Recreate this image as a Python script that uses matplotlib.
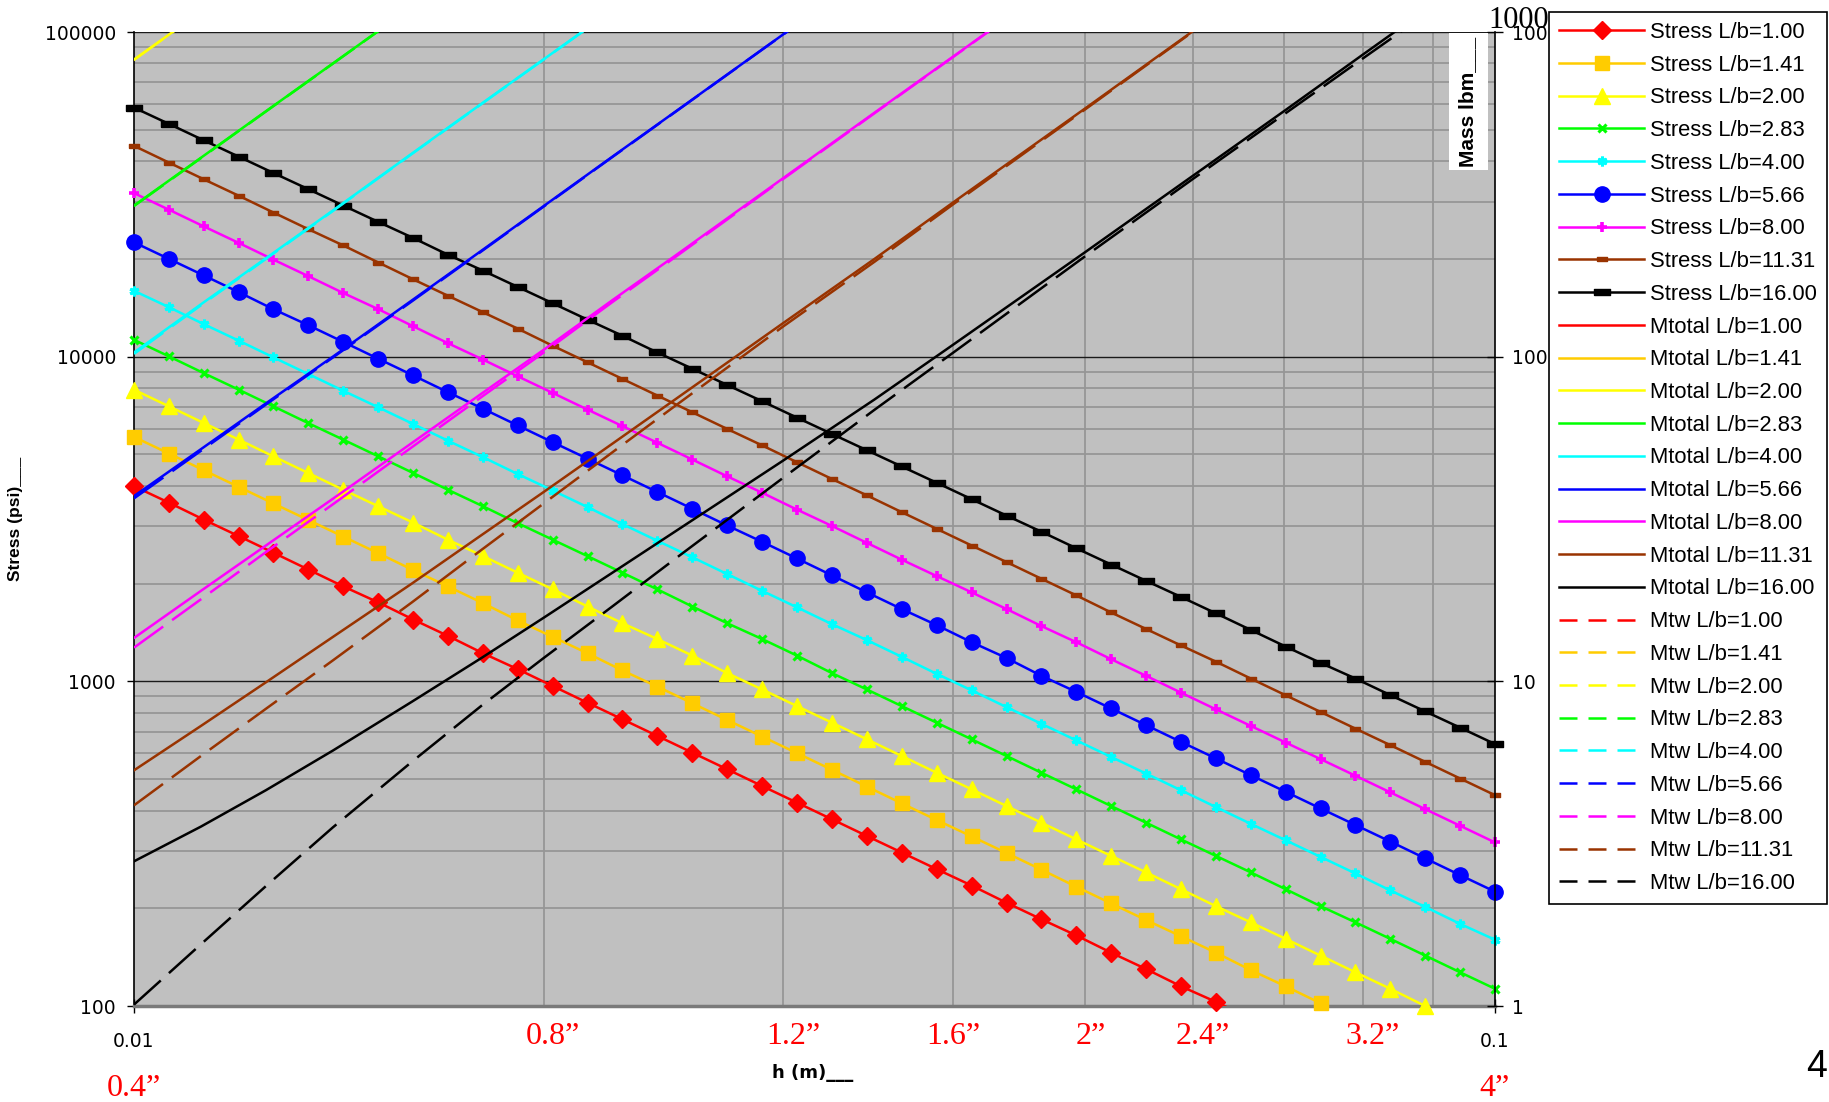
import matplotlib
matplotlib.use("Agg")
import matplotlib.pyplot as plt
import numpy as np
from matplotlib.lines import Line2D
from matplotlib.patches import Rectangle
from matplotlib.ticker import FixedLocator, NullFormatter, LogLocator
from matplotlib.transforms import blended_transform_factory

plt.rcParams['font.family'] = ['Liberation Sans', 'DejaVu Sans']

# h (m) for the stress curves (one point per marker)
h = [0.01000, 0.01061, 0.01125, 0.01194, 0.01266, 0.01343, 0.01425, 0.01512, 0.01604, 0.01701,
     0.01805, 0.01914, 0.02031, 0.02154, 0.02285, 0.02424, 0.02572, 0.02728, 0.02894, 0.03070,
     0.03257, 0.03455, 0.03665, 0.03888, 0.04125, 0.04376, 0.04642, 0.04924, 0.05223, 0.05541,
     0.05878, 0.06236, 0.06615, 0.07017, 0.07444, 0.07897, 0.08377, 0.08886, 0.09427, 0.1000]

stress_100 = [3990, 3550, 3150, 2800, 2490, 2210, 1960, 1750, 1550, 1380, 1220, 1090, 967, 859, 764, 679,
              603, 536, 476, 423, 376, 334, 297, 264, 235, 208, 185, 165, 146, 130, 115, 103, 91.2, 81.0,
              72.0, 64.0, 56.9, 50.5, 44.9, 39.9]
stress_141 = [5660, 5030, 4470, 3970, 3530, 3140, 2790, 2480, 2200, 1960, 1740, 1540, 1370, 1220, 1080, 963,
              856, 760, 676, 601, 534, 474, 421, 374, 333, 296, 263, 233, 207, 184, 164, 146, 129, 115,
              102, 90.8, 80.7, 71.7, 63.7, 56.6]
stress_200 = [7910, 7030, 6250, 5550, 4930, 4380, 3890, 3460, 3080, 2730, 2430, 2160, 1920, 1700, 1510, 1350,
              1200, 1060, 944, 839, 746, 663, 589, 523, 465, 413, 367, 326, 290, 258, 229, 203, 181, 161,
              143, 127, 113, 100, 89.0, 79.1]
stress_283 = [11270, 10020, 8900, 7910, 7030, 6240, 5550, 4930, 4380, 3890, 3460, 3070, 2730, 2430, 2160,
              1920, 1700, 1510, 1350, 1200, 1060, 944, 839, 746, 663, 589, 523, 465, 413, 367, 326, 290,
              258, 229, 203, 181, 161, 143, 127, 113]
stress_400 = [15950, 14200, 12600, 11200, 9950, 8840, 7850, 6980, 6200, 5510, 4900, 4350, 3870, 3440, 3050,
              2710, 2410, 2140, 1900, 1690, 1500, 1340, 1190, 1055, 938, 833, 740, 658, 585, 520, 462, 410,
              364, 324, 288, 256, 227, 202, 179, 160]
stress_566 = [22500, 20000, 17800, 15800, 14000, 12500, 11100, 9850, 8750, 7770, 6910, 6140, 5450, 4850,
              4310, 3830, 3400, 3020, 2690, 2390, 2120, 1880, 1670, 1490, 1320, 1180, 1040, 928, 825, 733,
              651, 579, 514, 457, 406, 361, 321, 285, 253, 225]
stress_800 = [31900, 28350, 25200, 22400, 19900, 17700, 15700, 14000, 12400, 11000, 9790, 8700, 7730, 6870,
              6110, 5430, 4820, 4280, 3810, 3380, 3010, 2670, 2370, 2110, 1880, 1670, 1480, 1320, 1170,
              1040, 923, 820, 729, 648, 576, 512, 455, 404, 359, 319]
stress_1131 = [44600, 39600, 35200, 31300, 27800, 24700, 22000, 19500, 17300, 15400, 13700, 12200, 10800,
               9610, 8540, 7590, 6740, 5990, 5330, 4730, 4200, 3740, 3320, 2950, 2620, 2330, 2070, 1840,
               1630, 1450, 1290, 1150, 1020, 906, 805, 715, 636, 565, 502, 446]
stress_1600 = [58500, 52100, 46400, 41300, 36800, 32800, 29200, 26000, 23200, 20600, 18400, 16400, 14600,
               13000, 11600, 10300, 9180, 8180, 7290, 6490, 5780, 5150, 4590, 4090, 3640, 3240, 2890, 2570,
               2290, 2040, 1820, 1620, 1440, 1280, 1140, 1020, 907, 808, 720, 641]

# h (m) for the mass curves
mass_h = [0.01, 0.0112, 0.0125, 0.014, 0.016, 0.018, 0.02, 0.0225, 0.025, 0.03, 0.035, 0.04,
          0.05, 0.06, 0.07, 0.08, 0.09, 0.1]

mtot_100 = [6540, 9200]
mtot_141 = [2320, 3260]
mtot_200 = [822, 1155]
mtot_283 = [292, 410, 570, 800, 1194]
mtot_400 = [103, 145, 201, 282, 422, 601, 824, 1172]
mtot_566 = [37.2, 51.9, 71.8, 100, 149, 212, 291, 415, 569, 984, 1563]
mtot_800 = [13.6, 19.0, 26.2, 36.5, 54.2, 76.9, 105, 150, 205, 355, 564, 841, 1644]
mtot_1131 = [5.32, 7.29, 9.93, 13.7, 20.0, 28.2, 38.3, 54.2, 74.0, 127, 200, 299, 582, 1007, 1600]
mtot_1600 = [2.79, 3.57, 4.62, 6.12, 8.65, 11.8, 15.7, 21.7, 29.0, 47.9, 73.8, 109, 210, 361, 571, 853, 1213]

mtw_100 = [6530, 9190]
mtw_141 = [2310, 3250]
mtw_200 = [821, 1154]
mtw_283 = [291, 409, 569, 799, 1193]
mtw_400 = [102, 144, 200, 281, 421, 600, 823, 1171]
mtw_566 = [36.6, 51.3, 71.2, 99.4, 148, 211, 290, 414, 568, 983, 1562]
mtw_800 = [12.7, 17.9, 25.0, 35.1, 52.6, 75.1, 103, 148, 203, 353, 562, 839, 1642]
mtw_1131 = [4.15, 5.89, 8.23, 11.6, 17.5, 25.4, 35.3, 51.0, 70.7, 124, 196, 295, 578, 1003, 1596]
mtw_1600 = [1.01, 1.55, 2.34, 3.55, 5.65, 8.41, 11.8, 17.1, 23.9, 42.4, 68.6, 103, 204, 353, 558, 830, 1175]

lb = ['1.00', '1.41', '2.00', '2.83', '4.00', '5.66', '8.00', '11.31', '16.00']
stress = [stress_100, stress_141, stress_200, stress_283, stress_400, stress_566, stress_800,
          stress_1131, stress_1600]
mtot = [mtot_100, mtot_141, mtot_200, mtot_283, mtot_400, mtot_566, mtot_800, mtot_1131, mtot_1600]
mtw = [mtw_100, mtw_141, mtw_200, mtw_283, mtw_400, mtw_566, mtw_800, mtw_1131, mtw_1600]

inch_labels = ['0.4\u201d', '0.8\u201d', '1.2\u201d', '1.6\u201d', '2\u201d', '2.4\u201d', '3.2\u201d', '4\u201d']

colors = ['#FF0000', '#FFCC00', '#FFFF00', '#00FF00', '#00FFFF', '#0000FF', '#FF00FF', '#993300', '#000000']

short_dash = [(-1, -0.5), (1, -0.5), (1, 0.5), (-1, 0.5), (-1, -0.5)]
long_dash = [(-1, -0.36), (1, -0.36), (1, 0.36), (-1, 0.36), (-1, -0.36)]
mstyles = [
    dict(marker='D', ms=9.5),
    dict(marker='s', ms=10),
    dict(marker='^', ms=12),
    dict(marker='x', ms=6, mew=2.2),
    dict(marker=(6, 2, 0), ms=7, mew=2.2),
    dict(marker='o', ms=11),
    dict(marker='+', ms=7, mew=2.6),
    dict(marker=short_dash, ms=6.7),
    dict(marker=long_dash, ms=12),
]

W, H = 1829, 1102
fig = plt.figure(figsize=(W / 100, H / 100), dpi=100)
ax = fig.add_axes([134 / W, 1 - 1006 / H, 1361 / W, 974 / H])
ax2 = ax.twinx()

ax.set_xscale('log')
ax.set_yscale('log')
ax2.set_yscale('log')
ax.set_facecolor('#C0C0C0')
ax.set_axisbelow(True)

lw = 1.8
h_arr = np.array(h)
stress_handles, tot_handles, tw_handles = [], [], []
for i in range(9):
    c = colors[i]
    s = np.array(stress[i])
    ax.plot(h_arr, s, color=c, lw=lw, zorder=3)
    inside = (s >= 99.5) & (s <= 100000)
    ax.plot(h_arr[inside], s[inside], ls='none', color=c, mec=c, mfc=c,
            clip_on=False, zorder=4, **mstyles[i])
    stress_handles.append(Line2D([], [], color=c, lw=lw, mec=c, mfc=c, **mstyles[i]))

    n = len(mtot[i])
    ax2.plot(mass_h[:n], mtot[i], color=c, lw=lw, zorder=3)
    tot_handles.append(Line2D([], [], color=c, lw=lw))
    n = len(mtw[i])
    ax2.plot(mass_h[:n], mtw[i], color=c, lw=lw, ls=(0, (14.4, 4.4)), zorder=3)
    tw_handles.append(Line2D([], [], color=c, lw=lw, ls=(0, (7.2, 4.4))))

ax.set_xlim(0.01, 0.1)
ax.set_ylim(100, 100000)
ax2.set_ylim(1, 1000)

# ticks
ax.xaxis.set_major_locator(FixedLocator([0.01, 0.1]))
ax.set_xticklabels(['0.01', '0.1'])
ax.xaxis.set_minor_locator(FixedLocator([0.02, 0.03, 0.04, 0.05, 0.06, 0.07, 0.08, 0.09]))
ax.xaxis.set_minor_formatter(NullFormatter())
ax.yaxis.set_major_locator(FixedLocator([100, 1000, 10000, 100000]))
ax.set_yticklabels(['100', '1000', '10000', '100000'])
ax.yaxis.set_minor_locator(LogLocator(base=10, subs=range(2, 10)))
ax.yaxis.set_minor_formatter(NullFormatter())
ax2.yaxis.set_major_locator(FixedLocator([1, 10, 100, 1000]))
ax2.set_yticklabels(['1', '10', '100', '1000'])
ax2.yaxis.set_minor_locator(LogLocator(base=10, subs=range(2, 10)))
ax2.yaxis.set_minor_formatter(NullFormatter())

ax.tick_params(axis='x', which='major', direction='inout', length=10, width=1, pad=14,
               labelsize=13.5, labelfontfamily='DejaVu Sans')
ax.tick_params(axis='y', which='major', direction='out', length=5, width=1, pad=8,
               labelsize=13.5, labelfontfamily='DejaVu Sans')
ax.tick_params(which='minor', length=0)
ax2.tick_params(axis='y', which='major', direction='inout', length=11, width=1, pad=7,
                labelsize=13.5, labelfontfamily='DejaVu Sans')
ax2.tick_params(which='minor', length=0)

ax.grid(True, which='minor', axis='both', color='#969696', lw=1.3)
ax.grid(True, which='major', axis='y', color='#1a1a1a', lw=1.0)
ax.grid(False, which='major', axis='x')

for a in (ax, ax2):
    a.spines['top'].set_visible(False)
ax.spines['right'].set_visible(False)
ax2.spines['left'].set_visible(False)
ax2.spines['bottom'].set_visible(False)
ax.spines['left'].set_color('black')
ax.spines['left'].set_linewidth(1.2)
ax.spines['bottom'].set_color('#7a7a7a')
ax.spines['bottom'].set_linewidth(2.5)
ax2.spines['right'].set_color('black')
ax2.spines['right'].set_linewidth(1.2)

# axis titles
fig.text(16 / W, 1 - 519 / H, 'Stress (psi)___', rotation=90, ha='center', va='center',
         fontsize=12.5, fontweight='bold')
fig.text(813 / W, 1 - 1073 / H, 'h (m)___', ha='center', va='center', fontsize=13, fontweight='bold',
         family='DejaVu Sans')
fig.add_artist(Rectangle((1449 / W, 1 - 170 / H), 39 / W, 137 / H, transform=fig.transFigure,
                         facecolor='white', edgecolor='none', zorder=5))
fig.text(1468 / W, 1 - 102 / H, 'Mass lbm___', rotation=90, ha='center', va='center',
         fontsize=15, fontweight='bold', zorder=6)

# inch annotations under the x axis
inch_pos = [0.0100, 0.0203, 0.0305, 0.0400, 0.0505, 0.0610, 0.0813, 0.1000]
inch_row = [1089, 1036, 1036, 1036, 1036, 1036, 1036, 1089]
tr = blended_transform_factory(ax.transData, fig.transFigure)
for lab, xp, yp in zip(inch_labels, inch_pos, inch_row):
    fig.text(xp, 1 - yp / H, lab, transform=tr, ha='center', va='center', color='red',
             fontsize=23, family='Liberation Serif')

fig.text(1488 / W, 1 - 28 / H, '1000', ha='left', va='baseline', fontsize=22, family='Liberation Serif')
fig.text(1806 / W, 1 - 1077 / H, '4', ha='left', va='baseline', fontsize=27)

handles = stress_handles + tot_handles + tw_handles
labels = (['Stress L/b=' + v for v in lb] + ['Mtotal L/b=' + v for v in lb] +
          ['Mtw L/b=' + v for v in lb])
leg = fig.legend(handles, labels, loc='upper left', bbox_to_anchor=(1549 / W, 1 - 12 / H),
                 bbox_transform=fig.transFigure, borderaxespad=0, frameon=True, fancybox=False,
                 edgecolor='black', framealpha=1, fontsize=15.8, handlelength=3.9,
                 handletextpad=0.25, labelspacing=0.535, borderpad=0.45)
leg.get_frame().set_linewidth(1.2)
leg.set_zorder(10)

fig.savefig('out.png', dpi=100)
